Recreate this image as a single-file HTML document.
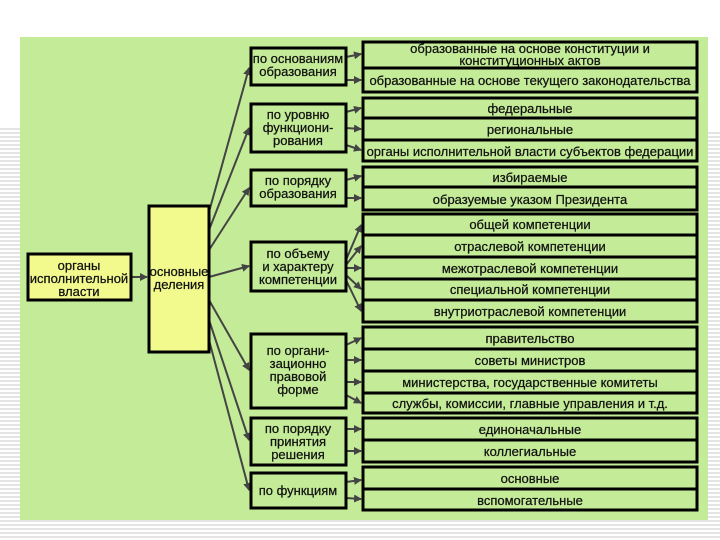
<!DOCTYPE html>
<html><head><meta charset="utf-8"><style>
html,body{margin:0;padding:0;background:#fff;}
svg{display:block}
text{font-family:"Liberation Sans Narrow","Liberation Sans",sans-serif;font-size:13px;fill:#111;text-anchor:middle;stroke:#111;stroke-width:0.25}
</style></head><body>
<svg width="720" height="540" viewBox="0 0 720 540" xmlns="http://www.w3.org/2000/svg">
<defs>
<pattern id="st" width="4" height="4" patternUnits="userSpaceOnUse"><rect width="4" height="2" fill="#e4e4e4"/></pattern>
<marker id="a" markerWidth="8" markerHeight="8" refX="7" refY="4" orient="auto" markerUnits="userSpaceOnUse"><path d="M0,0 L8,4 L0,8 z" fill="#444"/></marker>
</defs>
<rect x="0" y="128" width="20" height="412" fill="url(#st)"/>
<rect x="0" y="520" width="720" height="20" fill="url(#st)"/>
<rect x="700" y="130" width="20" height="390" fill="url(#st)"/>
<rect x="20" y="37" width="688" height="483" fill="#c4ec98"/>
<g stroke="#444" stroke-width="2" fill="none" marker-end="url(#a)">
<line x1="131" y1="277" x2="147" y2="277"/>
<line x1="209" y1="212" x2="249" y2="68"/>
<line x1="209" y1="230" x2="249" y2="128"/>
<line x1="209" y1="250" x2="249" y2="188"/>
<line x1="209" y1="277" x2="249" y2="266"/>
<line x1="209" y1="300" x2="249" y2="370"/>
<line x1="209" y1="320" x2="249" y2="440"/>
<line x1="209" y1="340" x2="249" y2="490"/>
<line x1="346" y1="57" x2="361" y2="54"/><line x1="346" y1="80" x2="361" y2="80"/>
<line x1="346" y1="112" x2="361" y2="108"/><line x1="346" y1="128" x2="361" y2="129"/><line x1="346" y1="145" x2="361" y2="150"/>
<line x1="346" y1="180" x2="361" y2="176"/><line x1="346" y1="198" x2="361" y2="198"/>
<line x1="346" y1="260" x2="361" y2="225"/><line x1="346" y1="265" x2="361" y2="246"/><line x1="346" y1="268" x2="361" y2="268"/><line x1="346" y1="275" x2="361" y2="289"/><line x1="346" y1="280" x2="361" y2="311"/>
<line x1="346" y1="345" x2="361" y2="338"/><line x1="346" y1="360" x2="361" y2="360"/><line x1="346" y1="382" x2="361" y2="382"/><line x1="346" y1="395" x2="361" y2="403"/>
<line x1="346" y1="429" x2="361" y2="429"/><line x1="346" y1="451" x2="361" y2="451"/>
<line x1="346" y1="482" x2="361" y2="480"/><line x1="346" y1="498" x2="361" y2="499"/>
</g>
<g stroke="#000" stroke-width="3">
<rect x="28" y="254" width="103" height="46" fill="#f2fa8e"/>
<rect x="149" y="206" width="60" height="146" fill="#f2fa8e"/>
<g fill="#c4ec98">
<rect x="251" y="48" width="95" height="37"/>
<rect x="251" y="104" width="95" height="48"/>
<rect x="251" y="170" width="95" height="36"/>
<rect x="251" y="242" width="95" height="49"/>
<rect x="251" y="334" width="95" height="74"/>
<rect x="251" y="418" width="95" height="47"/>
<rect x="251" y="473" width="95" height="35"/>
<rect x="363" y="42" width="334" height="26"/><rect x="363" y="68" width="334" height="24"/>
<rect x="363" y="98" width="334" height="20"/><rect x="363" y="118" width="334" height="22"/><rect x="363" y="140" width="334" height="21"/>
<rect x="363" y="167" width="334" height="20"/><rect x="363" y="187" width="334" height="23"/>
<rect x="363" y="214" width="334" height="21"/><rect x="363" y="235" width="334" height="22"/><rect x="363" y="257" width="334" height="22"/><rect x="363" y="279" width="334" height="21"/><rect x="363" y="300" width="334" height="22"/>
<rect x="363" y="327" width="334" height="22"/><rect x="363" y="349" width="334" height="22"/><rect x="363" y="371" width="334" height="22"/><rect x="363" y="393" width="334" height="20"/>
<rect x="363" y="418" width="334" height="22"/><rect x="363" y="440" width="334" height="22"/>
<rect x="363" y="467" width="334" height="22"/><rect x="363" y="489" width="334" height="21"/>
</g></g>
<text x="79" y="270">органы</text><text x="79" y="283">исполнительной</text><text x="79" y="296">власти</text>
<text x="179" y="276">основные</text><text x="179" y="289">деления</text>
<text x="298" y="63">по основаниям</text><text x="298" y="76">образования</text>
<text x="298" y="119">по уровню</text><text x="298" y="132">функциони-</text><text x="298" y="145">рования</text>
<text x="298" y="185">по порядку</text><text x="298" y="198">образования</text>
<text x="298" y="258">по объему</text><text x="298" y="271">и характеру</text><text x="298" y="284">компетенции</text>
<text x="298" y="355">по органи-</text><text x="298" y="368">зационно</text><text x="298" y="381">правовой</text><text x="298" y="394">форме</text>
<text x="298" y="433">по порядку</text><text x="298" y="446">принятия</text><text x="298" y="459">решения</text>
<text x="298" y="495">по функциям</text>
<g>
<text x="530" y="53">образованные на основе конституции и</text><text x="530" y="65">конституционных актов</text>
<text x="530" y="85">образованные на основе текущего законодательства</text>
<text x="530" y="113">федеральные</text><text x="530" y="134">региональные</text><text x="530" y="156">органы исполнительной власти субъектов федерации</text>
<text x="530" y="182">избираемые</text><text x="530" y="204">образуемые указом Президента</text>
<text x="530" y="229">общей компетенции</text><text x="530" y="251">отраслевой компетенции</text><text x="530" y="273">межотраслевой компетенции</text><text x="530" y="294">специальной компетенции</text><text x="530" y="316">внутриотраслевой компетенции</text>
<text x="530" y="343">правительство</text><text x="530" y="365">советы министров</text><text x="530" y="387">министерства, государственные комитеты</text><text x="530" y="408">службы, комиссии, главные управления и т.д.</text>
<text x="530" y="434">единоначальные</text><text x="530" y="456">коллегиальные</text>
<text x="530" y="483">основные</text><text x="530" y="505">вспомогательные</text>
</g>
</svg>
</body></html>
